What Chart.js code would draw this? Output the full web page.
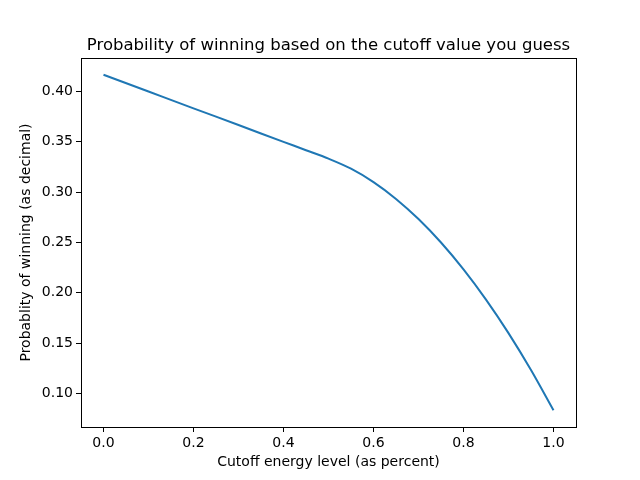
<!DOCTYPE html>
<html>
<head>
<meta charset="utf-8">
<script src="https://cdn.jsdelivr.net/npm/chart.js@4.4.1/dist/chart.umd.min.js"></script>
<style>
  html, body { margin: 0; padding: 0; background: #fff; }
  #wrap { width: 640px; height: 480px; }
</style>
</head>
<body>
<div id="wrap"><canvas id="chart" width="640" height="480"></canvas></div>
<script>
// cutoff values (x) and winning probability
const cutoffs = [0.0, 0.1, 0.2, 0.3, 0.4, 0.45, 0.5, 0.55, 0.6, 0.65, 0.7, 0.75, 0.8, 0.85, 0.9, 0.95, 1.0];
const probs = [0.4167, 0.4000, 0.3833, 0.3667, 0.3500, 0.3417, 0.3333, 0.3233, 0.3100, 0.2933, 0.2733, 0.2500, 0.2233, 0.1933, 0.1600, 0.1233, 0.0833];
const xTicks = [0.0, 0.2, 0.4, 0.6, 0.8, 1.0];
const yTicks = [0.10, 0.15, 0.20, 0.25, 0.30, 0.35, 0.40];
const titleText = 'Probability of winning based on the cutoff value you guess';

const points = cutoffs.map((c, i) => ({ x: c, y: probs[i] }));

// matplotlib style box around the plot area, title centred over the axes
const boxPlugin = {
    id: 'box',
    afterDraw(chart) {
        const { ctx, chartArea: a } = chart;
        ctx.save();
        ctx.strokeStyle = '#000';
        ctx.lineWidth = 1;
        ctx.strokeRect(Math.round(a.left) + 0.5, Math.round(a.top) + 0.5,
            Math.round(a.right - a.left), Math.round(a.bottom - a.top));
        ctx.fillStyle = '#000';
        ctx.font = '16.5px "DejaVu Sans"';
        ctx.textAlign = 'center';
        ctx.textBaseline = 'alphabetic';
        ctx.fillText(titleText, (a.left + a.right) / 2, a.top - 8);
        ctx.restore();
    }
};

const font = { family: 'DejaVu Sans', size: 14 };

new Chart(document.getElementById('chart'), {
    type: 'line',
    data: {
        datasets: [{
            data: points,
            borderColor: '#1f77b4',
            borderWidth: 2,
            pointRadius: 0,
            cubicInterpolationMode: 'monotone',
            fill: false
        }]
    },
    options: {
        responsive: false,
        animation: false,
        layout: { padding: { left: 0, right: 64, top: 58, bottom: 0 } },
        plugins: {
            legend: { display: false },
            tooltip: { enabled: false },
            title: { display: false }
        },
        scales: {
            x: {
                type: 'linear',
                min: -0.05,
                max: 1.05,
                afterBuildTicks: (s) => { s.ticks = xTicks.map(v => ({ value: v })); },
                afterFit: (s) => { s.height = 53; },
                ticks: {
                    color: '#000',
                    font: font,
                    padding: 3,
                    maxRotation: 0,
                    callback: (v) => Number(v).toFixed(1)
                },
                grid: { display: true, drawOnChartArea: false, drawTicks: true, tickLength: 5, color: '#000' },
                border: { display: false },
                title: {
                    display: true,
                    text: 'Cutoff energy level (as percent)',
                    color: '#000',
                    font: font,
                    padding: { top: 0, bottom: 9 }
                }
            },
            y: {
                type: 'linear',
                min: 0.0667,
                max: 0.4333,
                afterBuildTicks: (s) => { s.ticks = yTicks.map(v => ({ value: v })); },
                afterFit: (s) => { s.width = 81; },
                ticks: {
                    color: '#000',
                    font: font,
                    padding: 3,
                    callback: (v) => Number(v).toFixed(2)
                },
                grid: { display: true, drawOnChartArea: false, drawTicks: true, tickLength: 5, color: '#000' },
                border: { display: false },
                title: {
                    display: true,
                    text: 'Probablity of winning (as decimal)',
                    color: '#000',
                    font: font,
                    padding: { top: 18, bottom: 0 }
                }
            }
        }
    },
    plugins: [boxPlugin]
});
</script>
</body>
</html>
